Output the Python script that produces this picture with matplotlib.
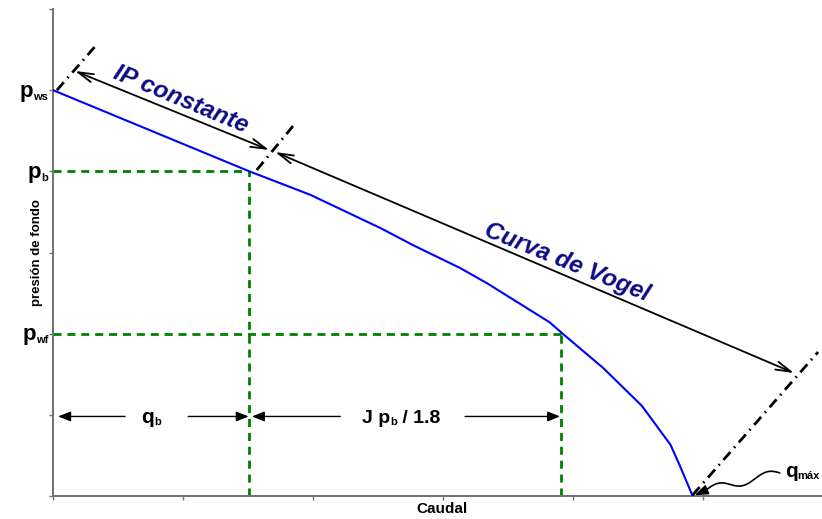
import numpy as np
import matplotlib
matplotlib.use("Agg")
import matplotlib.pyplot as plt
from matplotlib.patches import FancyArrowPatch

plt.rcParams['font.family'] = ['Liberation Sans', 'DejaVu Sans']

# ---------------- data ----------------
q_curve = [0.0, 1.51, 1.77, 1.98, 2.52, 2.77, 3.13, 3.34, 3.82, 3.92, 4.23, 4.53, 4.75, 4.82, 4.92]
p_curve = [5.0, 4.0, 3.84, 3.71, 3.30, 3.09, 2.81, 2.62, 2.14, 2.0, 1.58, 1.11, 0.63, 0.38, 0.0]

p_ws, p_b, p_wf = 5.0, 4.0, 2.0
q_b, q_wf, q_max = 1.51, 3.91, 4.92

x_ticks = [0, 1, 2, 3, 4, 5]
y_ticks = [0, 1, 2, 3, 4, 5, 6]
x_label = "Caudal"
y_label = "presión de fondo"
label_ip = "IP constante"
label_vogel = "Curva de Vogel"

# ---------------- figure ----------------
W, H, DPI = 822, 519, 100
fig = plt.figure(figsize=(W / DPI, H / DPI), dpi=DPI)
ax = fig.add_axes([53 / W, 23 / H, 769 / W, 487 / H])
ax.set_xlim(0, 5.915)
ax.set_ylim(0, 6)
ax.set_xticks(x_ticks)
ax.set_yticks(y_ticks)
ax.tick_params(direction='out', length=3, width=1, color='#707070',
               labelleft=False, labelbottom=False)
for s in ('top', 'right'):
    ax.spines[s].set_visible(False)
for s in ('left', 'bottom'):
    ax.spines[s].set_color('#707070')
    ax.spines[s].set_linewidth(1.4)

green = '#008000'
gdash = dict(color=green, lw=2.0, dashes=(2.9, 2.1))
ax.plot([0, q_b], [p_b, p_b], **gdash)
ax.plot([q_b, q_b], [0, p_b], **gdash)
ax.plot([0, q_wf], [p_wf, p_wf], **gdash)
ax.plot([q_wf, q_wf], [0, p_wf], **gdash)

ax.plot(q_curve, p_curve, color='#0000ff', lw=1.5, zorder=4)

# dash-dot guide lines
dd = dict(color='black', lw=2.0, dashes=(3.8, 2.0, 0.6, 2.0), zorder=5, clip_on=False)
ax.plot([0.03, 0.33], [5.0, 5.55], **dd)
ax.plot([1.567, 1.846], [4.016, 4.558], **dd)
ax.plot([q_max, 5.885], [0.012, 1.774], **dd)

def arrow(p0, p1, style, lw, ms=10):
    a = FancyArrowPatch(p0, p1, arrowstyle=style, mutation_scale=ms, lw=lw,
                        color='black', shrinkA=0, shrinkB=0, zorder=6, clip_on=False)
    ax.add_patch(a)

# long double-headed arrows
st2 = '<->,head_length=1.1,head_width=0.3'
arrow((0.169, 5.236), (1.662, 4.263), st2, 1.3)
arrow((1.708, 4.238), (5.70, 1.515), st2, 1.3)

# dimension arrows
st1 = '-|>,head_length=0.75,head_width=0.3'
ya = 0.98
arrow((0.554, ya), (0.04, ya), st1, 1.0)
arrow((1.04, ya), (q_b - 0.005, ya), st1, 1.0)
arrow((2.21, ya), (q_b + 0.02, ya), st1, 1.0)
arrow((3.17, ya), (q_wf - 0.01, ya), st1, 1.0)

# wavy pointer to q_max
t = np.linspace(0, 1, 80)
xs = 5.59 + (5.02 - 5.59) * t
ys = 0.285 + (0.07 - 0.285) * t + 0.05 * np.sin(2 * np.pi * 1.5 * t)
ax.plot(xs, ys, color='black', lw=1.2, zorder=6, solid_capstyle='round')
arrow((xs[-1], ys[-1]), (q_max + 0.015, 0.01), '-|>,head_length=0.8,head_width=0.3', 1.2)

# rotated labels
navy = '#0b0b85'
ax.text(0.985, 4.885, label_ip, rotation=-22.5, rotation_mode='anchor',
        ha='center', va='center', fontsize=17.5, fontstyle='italic',
        fontweight='bold', color=navy)
ax.text(3.954, 2.885, label_vogel, rotation=-22, rotation_mode='anchor',
        ha='center', va='center', fontsize=17.5, fontstyle='italic',
        fontweight='bold', color=navy)

# axis titles
ax.text(-(53 - 37) / 769, 0.5, y_label, transform=ax.transAxes, rotation=90,
        ha='center', va='center', fontsize=9.5, fontweight='bold')
fig.text(442 / W, 1 - 509 / H, x_label, ha='center', va='center',
         fontsize=11, fontweight='bold')

# rich labels with subscripts
groups = []
def rich(xy, pieces, xycoords='data', ha='center', dy_pt=0.0, gap_pt=0.0):
    first = ax.annotate(pieces[0][0], xy=xy, xycoords=xycoords, xytext=(0, dy_pt),
                        textcoords='offset points', ha='left', va='baseline',
                        fontsize=pieces[0][1], fontweight='bold',
                        annotation_clip=False, zorder=7)
    arts = [first]
    prev = first
    for s, size, sub in pieces[1:]:
        coords = prev if sub else (prev, first)
        a = ax.annotate(s, xy=(1, 0), xycoords=coords, ha='left', va='bottom',
                        fontsize=size, fontweight='bold', annotation_clip=False, zorder=7)
        arts.append(a)
        prev = a
    groups.append((arts, ha, dy_pt, gap_pt))

yl = ('axes fraction', 'data')
rich((0, p_ws), [("p", 16, False), ("ws", 8, True)], xycoords=yl, ha='right', dy_pt=-4.6, gap_pt=-3.5)
rich((0, p_b), [("p", 16, False), ("b", 8, True)], xycoords=yl, ha='right', dy_pt=-4.6, gap_pt=-3.5)
rich((0, p_wf), [("p", 16, False), ("wf", 8, True)], xycoords=yl, ha='right', dy_pt=-4.6, gap_pt=-3.5)
rich(((0.04 + q_b) / 2 - 0.02, ya), [("q", 15, False), ("b", 8, True)], ha='center', dy_pt=-4.8)
rich(((q_b + q_wf) / 2 - 0.03, ya), [("J p", 14, False), ("b", 8, True), (" / 1.8", 14, False)],
     ha='center', dy_pt=-4.8)
rich((5.63, 0.234), [("q", 15, False), ("máx", 8, True)], ha='left')

fig.canvas.draw()
r = fig.canvas.get_renderer()
for arts, ha, dy, gap in groups:
    bbs = [a.get_window_extent(r) for a in arts]
    width = max(b.x1 for b in bbs) - min(b.x0 for b in bbs)
    if ha == 'center':
        shift = -width / 2
    elif ha == 'right':
        shift = -width
    else:
        shift = 0
    arts[0].xyann = (shift * 72 / DPI + gap, dy)

fig.savefig('out.png', dpi=DPI)
